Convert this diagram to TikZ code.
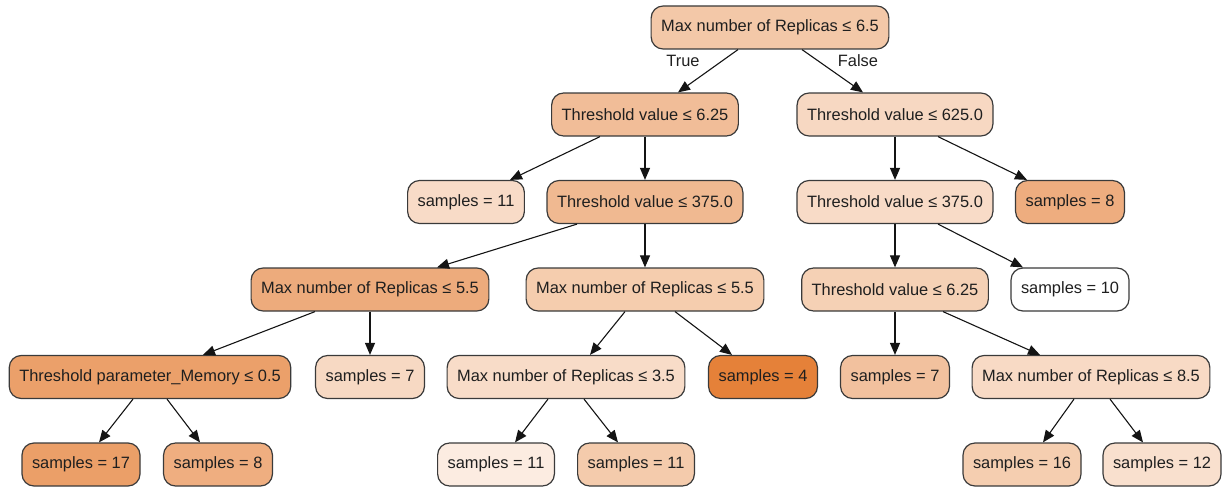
\documentclass[tikz,border=0pt]{standalone}
\usepackage{fontspec}
\setmainfont{Liberation Sans}
\usetikzlibrary{arrows.meta,calc}

% fill shades of the tree nodes
\definecolor{nodeline}{HTML}{3A3A3A}
\definecolor{cRoot}{HTML}{F3C8A8}
\definecolor{cA}{HTML}{F1BD98}
\definecolor{cB}{HTML}{F7D8C2}
\definecolor{cSa}{HTML}{F8DBC7}
\definecolor{cC}{HTML}{F0B991}
\definecolor{cD}{HTML}{F8DBC7}
\definecolor{cSb}{HTML}{EEAD7F}
\definecolor{cE}{HTML}{EDAB7C}
\definecolor{cF}{HTML}{F5CDAE}
\definecolor{cG}{HTML}{F5D1B5}
\definecolor{cH}{HTML}{EBA06A}
\definecolor{cSc}{HTML}{F7D9C3}
\definecolor{cI}{HTML}{F8DCC8}
\definecolor{cSd}{HTML}{E58139}
\definecolor{cSe}{HTML}{F2C19E}
\definecolor{cJ}{HTML}{F8DAC5}
\definecolor{cSf}{HTML}{EB9F68}
\definecolor{cSg}{HTML}{EFAE80}
\definecolor{cSh}{HTML}{FCECE1}
\definecolor{cSi}{HTML}{F4CBAC}
\definecolor{cSj}{HTML}{F5CEB0}
\definecolor{cSk}{HTML}{F9E0CE}

\begin{document}
\begin{tikzpicture}[x=1pt,y=-1pt,
  tnode/.style={draw=nodeline, line width=1.2pt, rounded corners=12pt,
    minimum height=43pt, inner xsep=10pt, inner ysep=0pt,
    font=\fontsize{16.4}{19}\selectfont, text=black!88},
  edge/.style={draw=black!92, line width=1.1pt,
    -{Triangle[length=12pt,width=10pt]}},
  elabel/.style={font=\fontsize{16.4}{19}\selectfont, text=black!88, inner sep=0pt}]

\useasboundingbox (0,0) rectangle (1222,487);

% level 0
\node[tnode, fill=cRoot] (root) at (770,27.5) {Max number of Replicas ≤ 6.5};
% level 1
\node[tnode, fill=cA] (a) at (645,114.5) {Threshold value ≤ 6.25};
\node[tnode, fill=cB] (b) at (895,114.5) {Threshold value ≤ 625.0};
% level 2
\node[tnode, fill=cSa] (s11a) at (466,202) {samples = 11};
\node[tnode, fill=cC] (c) at (645,202) {Threshold value ≤ 375.0};
\node[tnode, fill=cD] (d) at (895,202) {Threshold value ≤ 375.0};
\node[tnode, fill=cSb] (s8a) at (1070,202) {samples = 8};
% level 3
\node[tnode, fill=cE] (e) at (370,289.5) {Max number of Replicas ≤ 5.5};
\node[tnode, fill=cF] (f) at (645,289.5) {Max number of Replicas ≤ 5.5};
\node[tnode, fill=cG] (g) at (895,289.5) {Threshold value ≤ 6.25};
\node[tnode, fill=white] (s10) at (1070,289.5) {samples = 10};
% level 4
\node[tnode, fill=cH] (h) at (150,377) {Threshold parameter\_Memory ≤ 0.5};
\node[tnode, fill=cSc] (s7a) at (370,377) {samples = 7};
\node[tnode, fill=cI] (i) at (566,377) {Max number of Replicas ≤ 3.5};
\node[tnode, fill=cSd] (s4) at (763,377) {samples = 4};
\node[tnode, fill=cSe] (s7b) at (895,377) {samples = 7};
\node[tnode, fill=cJ] (j) at (1091,377) {Max number of Replicas ≤ 8.5};
% level 5
\node[tnode, fill=cSf] (s17) at (81,464.5) {samples = 17};
\node[tnode, fill=cSg] (s8b) at (218,464.5) {samples = 8};
\node[tnode, fill=cSh] (s11b) at (496,464.5) {samples = 11};
\node[tnode, fill=cSi] (s11c) at (636,464.5) {samples = 11};
\node[tnode, fill=cSj] (s16) at (1022,464.5) {samples = 16};
\node[tnode, fill=cSk] (s12) at (1162,464.5) {samples = 12};

% connectors
\draw[edge] ([xshift=-32pt]root.south) -- ([xshift=33pt]a.north);
\draw[edge] ([xshift=32pt]root.south) -- ([xshift=-32pt]b.north);
\node[elabel] (tlab) at (683,61) {True};
\node[elabel] (flab) at (858,61) {False};

\draw[edge] ([xshift=-45pt]a.south) -- ([xshift=44pt]s11a.north);
\draw[edge] (a.south) -- (c.north);
\draw[edge] (b.south) -- (d.north);
\draw[edge] ([xshift=43pt]b.south) -- ([xshift=-43pt]s8a.north);

\draw[edge] ([xshift=-68pt]c.south) -- ([xshift=67pt]e.north);
\draw[edge] (c.south) -- (f.north);
\draw[edge] (d.south) -- (g.north);
\draw[edge] ([xshift=43pt]d.south) -- ([xshift=-47pt]s10.north);

\draw[edge] ([xshift=-55pt]e.south) -- ([xshift=53pt]h.north);
\draw[edge] (e.south) -- (s7a.north);
\draw[edge] ([xshift=-20pt]f.south) -- ([xshift=24pt]i.north);
\draw[edge] ([xshift=30pt]f.south) -- ([xshift=-31pt]s4.north);
\draw[edge] (g.south) -- (s7b.north);
\draw[edge] ([xshift=48pt]g.south) -- ([xshift=-51pt]j.north);

\draw[edge] ([xshift=-17pt]h.south) -- ([xshift=18pt]s17.north);
\draw[edge] ([xshift=17pt]h.south) -- ([xshift=-18pt]s8b.north);
\draw[edge] ([xshift=-18pt]i.south) -- ([xshift=19pt]s11b.north);
\draw[edge] ([xshift=18pt]i.south) -- ([xshift=-18pt]s11c.north);
\draw[edge] ([xshift=-17pt]j.south) -- ([xshift=21pt]s16.north);
\draw[edge] ([xshift=19pt]j.south) -- ([xshift=-19pt]s12.north);
\end{tikzpicture}
\end{document}
